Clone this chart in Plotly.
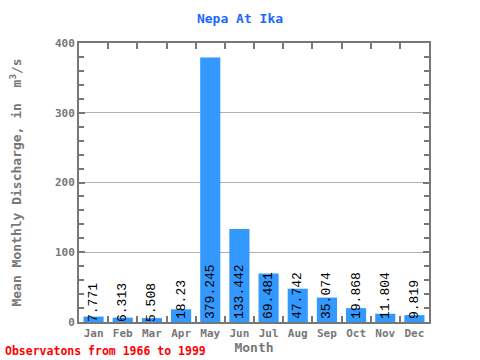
import plotly.graph_objects as go

months = ["Jan", "Feb", "Mar", "Apr", "May", "Jun", "Jul", "Aug", "Sep", "Oct", "Nov", "Dec"]
values = [7.771, 6.313, 5.508, 18.23, 379.245, 133.442, 69.481, 47.742, 35.074, 19.868, 11.804, 9.819]
labels = ["7.771", "6.313", "5.508", "18.23", "379.245", "133.442", "69.481", "47.742", "35.074", "19.868", "11.804", "9.819"]

mono = "DejaVu Sans Mono, Liberation Mono, monospace"
lmono = "Liberation Mono, DejaVu Sans Mono, monospace"
gray = "#777777"

fig = go.Figure()
fig.add_trace(go.Bar(
    x=months, y=values, text=labels,
    marker=dict(color="#3399ff", line=dict(width=0)),
    textposition="inside", insidetextanchor="start", textangle=-90,
    constraintext="none", cliponaxis=False,
    insidetextfont=dict(family=lmono, size=13, color="#000000"),
    hoverinfo="x+y",
))

fig.update_layout(
    width=480, height=360,
    margin=dict(l=79, r=51, t=43, b=38, autoexpand=False),
    paper_bgcolor="white", plot_bgcolor="white",
    bargap=0.31,
    showlegend=False,
    title=dict(text="<b>Nepa At Ika</b>", x=0.5, xanchor="center", y=0.95, yanchor="middle",
               font=dict(family=mono, size=13, color="#1a66ff")),
    font=dict(family=mono, color=gray),
)
fig.update_xaxes(
    showline=True, linecolor=gray, linewidth=2, mirror="allticks",
    ticks="inside", ticklen=6, tickcolor=gray, tickwidth=2,
    tickson="boundaries", tickangle=0, automargin=False,
    tickfont=dict(family=mono, size=11, color=gray, weight="bold"),
    title=dict(text="<b>Month</b>", font=dict(family=mono, size=13, color=gray), standoff=2),
    showgrid=False,
)
fig.update_yaxes(
    range=[0, 400], showline=True, linecolor=gray, linewidth=2, mirror="allticks",
    tickvals=[0, 100, 200, 300, 400], automargin=False,
    ticks="inside", ticklen=6, tickcolor=gray, tickwidth=2,
    minor=dict(dtick=20, ticks="inside", ticklen=5, tickcolor=gray, tickwidth=2, showgrid=False),
    showgrid=True, gridcolor="#b0b0b0", gridwidth=1,
    zeroline=False,
    tickfont=dict(family=mono, size=11, color=gray, weight="bold"),
    title=dict(text="<b>Mean Monthly Discharge, in  m<sup>3</sup>/s</b>", font=dict(family=mono, size=13, color=gray), standoff=30),
)
fig.add_annotation(
    text="<b>Observatons from 1966 to 1999</b>", xref="paper", yref="paper",
    x=-76/350, y=-38/279, xanchor="left", yanchor="bottom", showarrow=False,
    font=dict(family=mono, size=11.5, color="#ff0000"),
)
fig.write_html("out.html", config={"displayModeBar": False},
               post_script="document.body.style.margin='0';document.body.style.overflow='hidden';")
